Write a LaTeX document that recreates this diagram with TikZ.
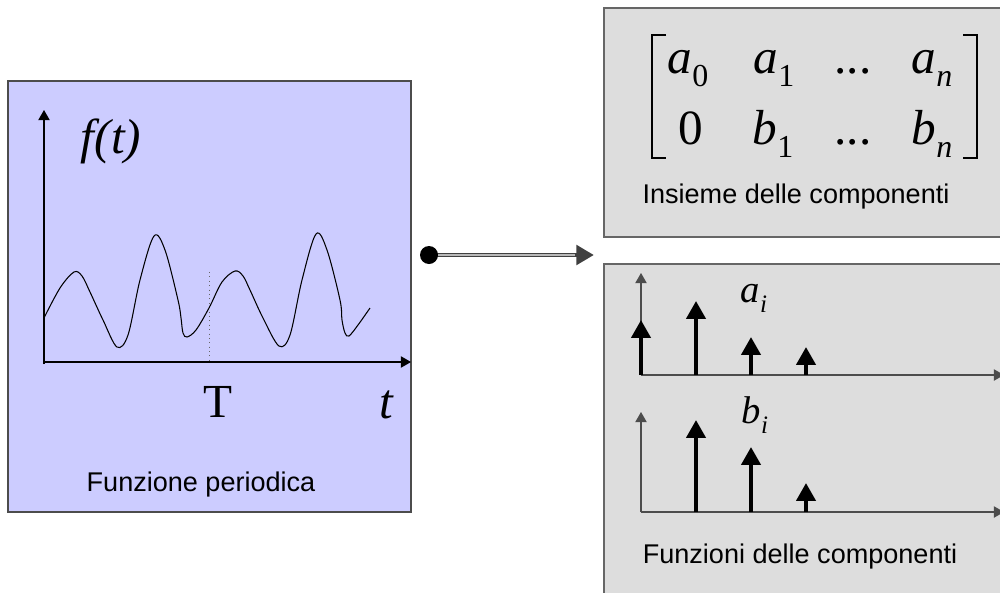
\documentclass[tikz,border=0pt]{standalone}
\usepackage{fontspec}
\setmainfont{Liberation Serif}
\setsansfont{Liberation Sans}
\usepackage{graphicx}
\usetikzlibrary{arrows.meta}
\definecolor{lilla}{RGB}{204,204,255}
\definecolor{grigio}{RGB}{221,221,221}
\newcommand{\pedice}[1]{\raisebox{-0.27em}{\scalebox{0.65}{#1}}}
\begin{document}
\begin{tikzpicture}[x=0.02cm, y=-0.02cm,
    asse/.style={line width=0.6pt, -{Triangle[length=5.8pt,width=6.5pt]}},
    stelo/.style={line width=2.3pt, -{Triangle[length=10.2pt,width=10.8pt]}},
    etichetta/.style={font=\sffamily\fontsize{15.4}{18}\selectfont, anchor=base, inner sep=0pt},
    coeff/.style={font=\fontsize{28}{32}\selectfont\itshape, anchor=base, inner sep=0pt},
    piccolo/.style={font=\fontsize{22}{25}\selectfont\itshape, anchor=base, inner sep=0pt}]
    \useasboundingbox (0,0) rectangle (1000,592);
    % Riquadri
    \draw[fill=lilla, draw=black!70, line width=0.6pt] (8,81) rectangle (411,512);
    \draw[fill=grigio, draw=black!60, line width=0.7pt] (604,8) rectangle (1010,237);
    \draw[fill=grigio, draw=black!60, line width=0.7pt] (604,264) rectangle (1010,600);
    % Funzione periodica
    \draw[asse] (44,364) -- (44,110);
    \draw[asse] (44,362) -- (411,362);
    \draw[black!60, dotted, line width=0.5pt] (209,272) -- (209,362);
    \draw[line width=0.6pt] plot[smooth, tension=0.55] coordinates {(44,318) (60,288) (74,272) (82,276) (90,292) (103,320) (117,347) (128,335) (140,280) (154,236) (165,250) (178,300) (181,318) (183,333) (187,337) (196,330) (209,308) (222,282) (235,271) (243,276) (250,290) (263,318) (279,346) (290,335) (302,280) (316,234) (327,250) (340,300) (342,320) (345,333) (349,336) (358,325) (370,308)};
    \node[anchor=base, inner sep=0pt, font=\fontsize{28}{32}\selectfont\itshape] (ft) at (111,153) {f(t)};
    \node[anchor=base, inner sep=0pt, font=\fontsize{27}{30}\selectfont] (periodo) at (218,417) {T};
    \node[anchor=base, inner sep=0pt, font=\fontsize{28}{30}\selectfont\itshape] (tempo) at (386,418) {t};
    \node[etichetta] (funzione) at (201,491) {Funzione periodica};
    % Collegamento
    \coordinate (pallino) at (429,255);
    \coordinate (punta) at (593,255);
    \draw[black!75, line width=2.8pt, -{Triangle[length=10pt,width=11pt]}, shorten >=-0.5pt] (pallino) -- (punta);
    \draw[gray!55, line width=1.2pt, shorten >=10pt] (pallino) -- (punta);
    \fill (pallino) circle (9);
    % Matrice dei coefficienti
    \draw[line width=1.1pt] (666,35) -- (652,35) -- (652,158) -- (666,158);
    \draw[line width=1.1pt] (963,35) -- (977,35) -- (977,158) -- (963,158);
    \node[coeff] (a0) at (688,73) {a\pedice{\upshape 0}};
    \node[coeff] (a1) at (774,73) {a\pedice{\upshape 1}};
    \node[coeff] (pa) at (853,73) {\upshape ...};
    \node[coeff] (an) at (932,73) {a\pedice{n}};
    \node[coeff] (zero) at (691,144) {\upshape 0};
    \node[coeff] (b1) at (773,144) {b\pedice{\upshape 1}};
    \node[coeff] (pb) at (853,144) {\upshape ...};
    \node[coeff] (bn) at (932,144) {b\pedice{n}};
    \node[etichetta] (insieme) at (796,203) {Insieme delle componenti};
    % Spettri
    \draw[asse, black!70] (641,375) -- (641,273);
    \draw[asse, black!70] (641,375) -- (1004,375);
    \draw[asse, black!70] (641,512) -- (641,412);
    \draw[asse, black!70] (641,512) -- (1004,512);
    \foreach \x/\ya/\yb in {641/320/512, 696/301/420, 751/337/447, 806/347/483} {
        \draw[stelo] (\x,375) -- (\x,\ya);
        \ifnum\x>641 \draw[stelo] (\x,512) -- (\x,\yb); \fi
    }
    \node[piccolo] (ai) at (754,302) {a\pedice{i}};
    \node[piccolo] (bi) at (755,423) {b\pedice{i}};
    \node[etichetta] (funzioni) at (800,563) {Funzioni delle componenti};
\end{tikzpicture}
\end{document}
